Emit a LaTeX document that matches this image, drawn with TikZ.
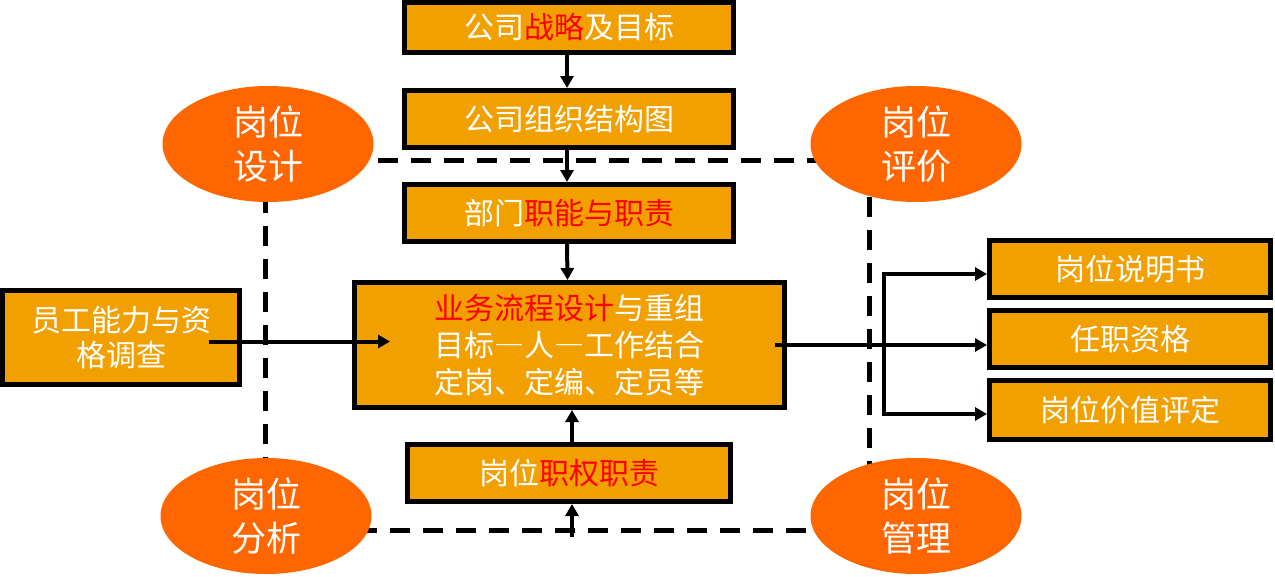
\documentclass[tikz,border=0pt]{standalone}
\usepackage{fontspec}
\setmainfont{Noto Sans CJK SC}
\usetikzlibrary{arrows.meta,shapes.geometric,calc}
\definecolor{boxorange}{RGB}{242,159,0}
\definecolor{roleorange}{RGB}{255,102,0}
\definecolor{hotred}{RGB}{255,0,0}
\newcommand{\widedash}{{\addfontfeature{RawFeature=+fwid}—}}

\begin{document}
\begin{tikzpicture}[x=1pt,y=-1pt,
  box/.style={draw=black, line width=5pt, fill=boxorange, text=white, align=center,
    inner sep=0pt, font=\fontsize{30}{37}\selectfont},
  role/.style={ellipse, fill=roleorange, text=white, align=center, inner sep=0pt,
    minimum width=211pt, minimum height=116pt, font=\fontsize{35}{44}\selectfont},
  arr/.style={-{Triangle[length=12pt,width=13pt]}, line width=4pt},
  frame/.style={line width=5pt, dash pattern=on 20pt off 13pt}]
\useasboundingbox (0,0) rectangle (1275,576);

% dashed frame behind the four roles
\draw[frame] (265,160) rectangle (869,530);

\node[role] (design) at (268,144) {岗位\\设计};
\node[role] (evaluate) at (916,144) {岗位\\评价};
\node[role] (analyse) at (266,516) {岗位\\分析};
\node[role] (manage) at (916,516) {岗位\\管理};

% main column
\node[box, minimum width=329pt, minimum height=50pt] (goal) at (569,27.5)
  {公司\textcolor{hotred}{战略}及目标};
\node[box, minimum width=329pt, minimum height=57pt] (org) at (569,119)
  {公司组织结构图};
\node[box, minimum width=329pt, minimum height=57pt] (dept) at (569,213)
  {部门\textcolor{hotred}{职能与职责}};
\node[box, minimum width=430pt, minimum height=125pt] (flow) at (569.5,345)
  {\textcolor{hotred}{业务流程设计}与重组\\目标\widedash 人\widedash 工作结合\\定岗、定编、定员等};
\node[box, minimum width=323pt, minimum height=57pt] (duty) at (569,473)
  {岗位\textcolor{hotred}{职权职责}};

\node[box, minimum width=237pt, minimum height=94pt, font=\fontsize{30}{35}\selectfont]
  (staff) at (121,337.5) {员工能力与资\\格调查};

% outputs
\node[box, minimum width=281pt, minimum height=57pt] (spec) at (1130,269) {岗位说明书};
\node[box, minimum width=281pt, minimum height=57pt] (qual) at (1130,339) {任职资格};
\node[box, minimum width=281pt, minimum height=59pt] (worth) at (1130,410) {岗位价值评定};

\draw[arr] ([xshift=-2pt]goal.south) -- ([xshift=-2pt]org.north);
\draw[arr] ([xshift=-2pt]org.south) -- ([xshift=-2pt]dept.north);
\draw[arr] ([xshift=-2pt]dept.south) -- ([xshift=-2pt]flow.north);

\coordinate (below) at (572,537);
\draw[arr] (below) -- (below |- duty.south);
\draw[arr] (below |- duty.north) -- (below |- flow.south);

\draw[arr] ($(staff.east)+(-33,4)$) -- ($(staff.east -| flow.west)+(38,4)$);

\coordinate (split) at (884,345);
\draw[arr] ([xshift=-12pt]flow.east) -- (flow.east -| qual.west);
\draw[arr] (split) |- ($(spec.west)+(0,5)$);
\draw[arr] (split) |- ($(worth.west)+(0,4)$);
\end{tikzpicture}
\end{document}
